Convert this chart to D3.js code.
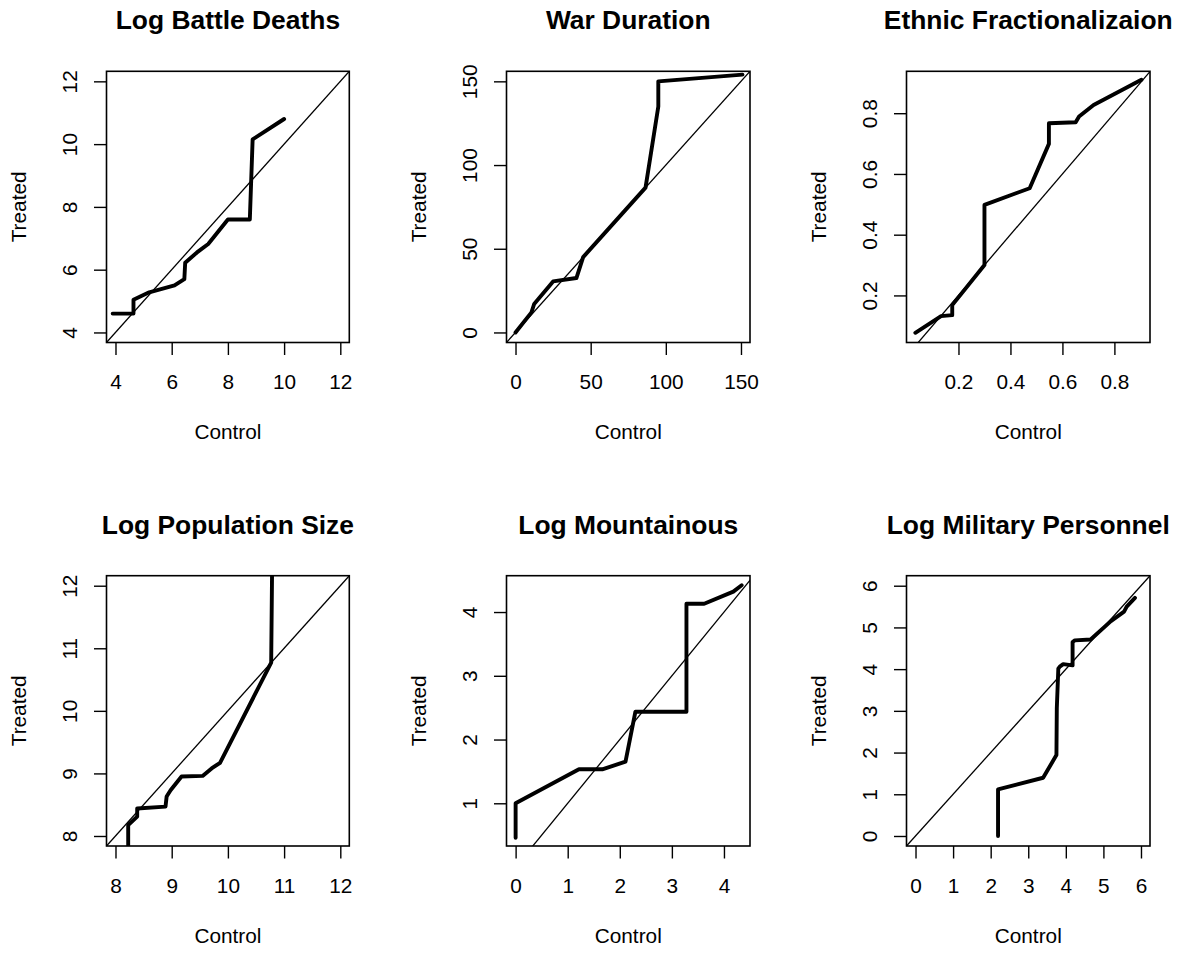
<!DOCTYPE html>
<html>
<head>
<meta charset="utf-8">
<script src="https://cdn.jsdelivr.net/npm/d3@7"></script>
<style>
  html, body { margin: 0; padding: 0; background: #fff; }
  svg text { font-family: "Liberation Sans", Arial, Helvetica, sans-serif; fill: #000; }
</style>
</head>
<body>
<svg id="chart" width="1186" height="953"></svg>
<script>
// ---------- data ----------
const titles = ["Log Battle Deaths", "War Duration", "Ethnic Fractionalizaion",
                "Log Population Size", "Log Mountainous", "Log Military Personnel"];

const battleControl = [3.9, 4.64, 4.64, 5.2, 6.1, 6.45, 6.48, 6.9, 7.3, 8.0, 8.78, 8.88, 10.0];
const battleTreated = [4.6, 4.6, 5.04, 5.28, 5.5, 5.7, 6.22, 6.55, 6.82, 7.6, 7.6, 10.15, 10.8];

const durationControl = [0, 10.6, 12.4, 25, 40.5, 45, 86.5, 95, 95, 151];
const durationTreated = [0, 12, 17, 30.5, 32.5, 45, 86.5, 135, 150, 154];

const ethnicControl = [0.034, 0.133, 0.176, 0.176, 0.30, 0.30, 0.474, 0.548, 0.548, 0.651, 0.664, 0.72, 0.904];
const ethnicTreated = [0.077, 0.132, 0.135, 0.168, 0.30, 0.498, 0.553, 0.699, 0.767, 0.770, 0.789, 0.827, 0.91];

const popControl = [8.226, 8.226, 8.386, 8.386, 8.89, 8.91, 8.98, 9.175, 9.55, 9.71, 9.86, 10.77, 10.79];
const popTreated = [7.8, 8.176, 8.31, 8.44, 8.47, 8.63, 8.73, 8.95, 8.96, 9.08, 9.17, 10.77, 12.6];

const mountControl = [0, 0, 1.216, 1.664, 2.11, 2.30, 3.28, 3.28, 3.62, 4.18, 4.34];
const mountTreated = [0.46, 1.0, 1.533, 1.533, 1.653, 2.437, 2.437, 4.13, 4.13, 4.32, 4.42];

const militaryControl = [2.196, 2.196, 3.396, 3.75, 3.76, 3.80, 3.84, 3.93, 4.18, 4.18, 4.24, 4.66, 5.2, 5.55, 5.62, 5.84];
const militaryTreated = [0, 1.117, 1.396, 1.94, 3.06, 4.01, 4.06, 4.12, 4.09, 4.65, 4.69, 4.71, 5.15, 5.38, 5.5, 5.71];

const xDomains = [[3.68, 12.32], [-6, 156], [0.0, 0.937], [7.84, 12.16], [-0.175, 4.5], [-0.24, 6.24]];
const yDomains = [[3.68, 12.32], [-6, 156], [0.045, 0.938], [7.84, 12.16], [0.33, 4.57], [-0.24, 6.24]];

const xTicks = [[4, 6, 8, 10, 12], [0, 50, 100, 150], [0.2, 0.4, 0.6, 0.8], [8, 9, 10, 11, 12], [0, 1, 2, 3, 4], [0, 1, 2, 3, 4, 5, 6]];
const yTicks = [[4, 6, 8, 10, 12], [0, 50, 100, 150], [0.2, 0.4, 0.6, 0.8], [8, 9, 10, 11, 12], [1, 2, 3, 4], [0, 1, 2, 3, 4, 5, 6]];

const controls = [battleControl, durationControl, ethnicControl, popControl, mountControl, militaryControl];
const treateds = [battleTreated, durationTreated, ethnicTreated, popTreated, mountTreated, militaryTreated];

const xLabel = "Control";
const yLabel = "Treated";

// ---------- layout ----------
const colLeft = [106.5, 506.5, 906.5];
const colRight = [349.3, 750, 1150];
const rowTop = [71.3, 575.7];
const rowBottom = [342.5, 846];

const svg = d3.select("#chart");
const fmt = d => String(d);

titles.forEach((title, i) => {
  const r = Math.floor(i / 3), c = i % 3;
  const L = colLeft[c], R = colRight[c], T = rowTop[r], B = rowBottom[r];
  const w = R - L, h = B - T;

  const x = d3.scaleLinear().domain(xDomains[i]).range([0, w]);
  const y = d3.scaleLinear().domain(yDomains[i]).range([h, 0]);

  const g = svg.append("g").attr("transform", `translate(${L},${T})`);

  const clipId = "clip" + i;
  g.append("clipPath").attr("id", clipId)
    .append("rect").attr("x", 0).attr("y", 0).attr("width", w).attr("height", h);

  // diagonal reference line (abline 0,1)
  const lo = Math.min(xDomains[i][0], yDomains[i][0]) - 1;
  const hi = Math.max(xDomains[i][1], yDomains[i][1]) + 1;
  g.append("line")
    .attr("clip-path", `url(#${clipId})`)
    .attr("x1", x(lo)).attr("y1", y(lo))
    .attr("x2", x(hi)).attr("y2", y(hi))
    .attr("stroke", "#000").attr("stroke-width", 1.3);

  // QQ line
  const pts = controls[i].map((cv, k) => [cv, treateds[i][k]]);
  g.append("path")
    .attr("clip-path", `url(#${clipId})`)
    .attr("d", d3.line().x(d => x(d[0])).y(d => y(d[1]))(pts))
    .attr("fill", "none").attr("stroke", "#000")
    .attr("stroke-width", 3.9).attr("stroke-linejoin", "round").attr("stroke-linecap", "round");

  // axes
  const gx = g.append("g").attr("transform", `translate(0,${h})`)
    .call(d3.axisBottom(x).tickValues(xTicks[i]).tickFormat(fmt).tickSize(12.5));
  gx.select(".domain").remove();
  gx.selectAll(".tick line").attr("stroke-width", 1.4);
  gx.selectAll(".tick text")
    .attr("y", 46.5).attr("dy", null)
    .attr("font-size", "20.8px").attr("font-family", null);

  const gy = g.append("g")
    .call(d3.axisLeft(y).tickValues(yTicks[i]).tickFormat(fmt).tickSize(12.5));
  gy.select(".domain").remove();
  gy.selectAll(".tick line").attr("stroke-width", 1.4);
  gy.selectAll(".tick text")
    .attr("x", null).attr("dy", null)
    .attr("text-anchor", "middle")
    .attr("transform", "translate(-30,0) rotate(-90)")
    .attr("font-size", "20.8px").attr("font-family", null);
  gx.attr("font-family", null);
  gy.attr("font-family", null);

  // box
  g.append("rect").attr("x", 0).attr("y", 0).attr("width", w).attr("height", h)
    .attr("fill", "none").attr("stroke", "#000").attr("stroke-width", 1.6);

  // title
  g.append("text")
    .attr("x", w / 2).attr("y", -42)
    .attr("text-anchor", "middle")
    .attr("font-weight", "bold").attr("font-size", "26.4px")
    .text(title);

  // axis labels
  g.append("text")
    .attr("x", w / 2).attr("y", h + 97)
    .attr("text-anchor", "middle").attr("font-size", "20.8px")
    .text(xLabel);

  g.append("text")
    .attr("transform", `translate(-80.5,${h / 2}) rotate(-90)`)
    .attr("text-anchor", "middle").attr("font-size", "20.8px")
    .text(yLabel);
});
</script>
</body>
</html>
